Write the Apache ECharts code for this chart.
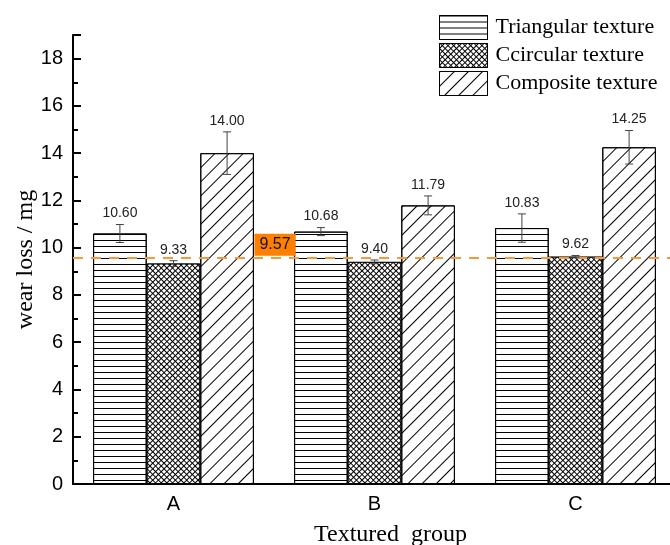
<!DOCTYPE html>
<html>
<head>
<meta charset="utf-8">
<title>wear loss</title>
<script src="https://cdn.jsdelivr.net/npm/echarts@6/dist/echarts.min.js"></script>
<style>
  html, body { margin: 0; padding: 0; background: #fff; }
  #chart { width: 670px; height: 545px; }
</style>
</head>
<body>
<div id="chart"></div>
<script>
// data
const categories = ['A', 'B', 'C'];
const seriesNames = ['Triangular texture', 'Ccircular texture', 'Composite texture'];
const triangular = [10.60, 10.68, 10.83];
const circular = [9.33, 9.40, 9.62];
const composite = [14.00, 11.79, 14.25];
const triangularErr = [0.38, 0.17, 0.60];
const circularErr = [0.12, 0.08, 0.05];
const compositeErr = [0.90, 0.40, 0.71];
const meanValue = 9.57;

const values = [triangular, circular, composite];
const errors = [triangularErr, circularErr, compositeErr];

// patterns: horizontal lines, cross hatch, diagonal lines
const decals = [
  { symbol: 'rect', color: '#000', dashArrayX: [1, 0], dashArrayY: [1, 5], rotation: 0 },
  { symbol: 'rect', color: '#fff', backgroundColor: '#000', dashArrayX: [3, 1], dashArrayY: [3, 1], rotation: Math.PI / 4 },
  { symbol: 'rect', color: '#000', dashArrayX: [1, 0], dashArrayY: [1, 9], rotation: -Math.PI / 4 }
];

// error bar rows: [category index, series index, value, error]
const errRows = [];
values.forEach((arr, s) => arr.forEach((v, c) => errRows.push([c, s, v, errors[s][c]])));

const barSeries = seriesNames.map((name, s) => ({
  name: name,
  type: 'bar',
  xAxisIndex: 0,
  data: values[s],
  barGap: '0%',
  barCategoryGap: '20%',
  itemStyle: { color: '#fff', borderColor: '#000', borderWidth: 1, decal: decals[s] },
  emphasis: { disabled: true },
  markLine: s === 0 ? {
    silent: true,
    symbol: 'none',
    label: { show: false },
    lineStyle: { color: '#f8983a', type: [10, 8], width: 2 },
    data: [{ yAxis: meanValue }]
  } : undefined
}));

const chart = echarts.init(document.getElementById('chart'));
chart.setOption({
  animation: false,
  backgroundColor: '#fff',
  grid: { left: 73, right: -6, top: 35, bottom: 61, containLabel: false, outerBoundsMode: 'none' },
  legend: {
    orient: 'vertical',
    left: 434,
    top: 10,
    itemWidth: 48,
    itemHeight: 24,
    itemGap: 3,
    icon: 'rect',
    itemStyle: { borderColor: '#000', borderWidth: 1 },
    textStyle: { fontFamily: 'Liberation Serif', fontSize: 22, lineHeight: 24, color: '#000', padding: [0, 0, 0, 3] },
    data: seriesNames
  },
  xAxis: [
    {
      type: 'category',
      data: categories,
      position: 'bottom',
      name: 'Textured  group',
      nameLocation: 'middle',
      nameGap: 39,
      nameMoveOverlap: false,
      nameTextStyle: { fontFamily: 'Liberation Serif', fontSize: 24, color: '#000', padding: [0, 0, 0, 32] },
      axisLine: { lineStyle: { color: '#000', width: 2 } },
      axisTick: { alignWithLabel: true, inside: true, length: 8, lineStyle: { color: '#000', width: 2 } },
      axisLabel: { fontFamily: 'Liberation Sans', fontSize: 20, color: '#000', margin: 10 }
    },
    {
      type: 'category',
      data: categories,
      position: 'bottom',
      axisLine: { show: false },
      axisTick: { inside: true, length: 4, lineStyle: { color: '#000', width: 2 } },
      axisLabel: { show: false }
    }
  ],
  yAxis: {
    type: 'value',
    min: 0,
    max: 19,
    interval: 2,
    name: 'wear loss / mg',
    nameLocation: 'middle',
    nameGap: 35,
    nameMoveOverlap: false,
    nameTextStyle: { fontFamily: 'Liberation Serif', fontSize: 24, color: '#000' },
    axisLine: { show: true, lineStyle: { color: '#000', width: 2 } },
    axisTick: { show: true, inside: true, length: 8, lineStyle: { color: '#000', width: 2 } },
    minorTick: { show: true, splitNumber: 2, length: 5, lineStyle: { color: '#000', width: 2 } },
    splitLine: { show: false },
    axisLabel: { fontFamily: 'Liberation Sans', fontSize: 20, color: '#000', margin: 10, showMaxLabel: false }
  },
  series: barSeries.concat([
    {
      type: 'custom',
      name: 'errors',
      xAxisIndex: 0,
      silent: true,
      z: 5,
      encode: { x: 0, y: 2 },
      data: errRows,
      renderItem: function (params, api) {
        const c = api.value(0), s = api.value(1), v = api.value(2), e = api.value(3);
        const band = api.size([1, 0])[0];
        const bw = band * 0.8 / 3;
        const cx = api.coord([c, v])[0] + (s - 1) * bw;
        const yTop = api.coord([c, v + e])[1];
        const yBot = api.coord([c, v - e])[1];
        const cap = 4;
        const ls = { stroke: '#444', lineWidth: 1 };
        return {
          type: 'group',
          children: [
            { type: 'line', shape: { x1: cx, y1: yTop, x2: cx, y2: yBot }, style: ls },
            { type: 'line', shape: { x1: cx - cap, y1: yTop, x2: cx + cap, y2: yTop }, style: ls },
            { type: 'line', shape: { x1: cx - cap, y1: yBot, x2: cx + cap, y2: yBot }, style: ls },
            {
              type: 'text',
              style: {
                text: v.toFixed(2), x: cx, y: yTop - 4,
                align: 'center', verticalAlign: 'bottom',
                fill: '#222', font: '14px "Liberation Sans"'
              }
            }
          ]
        };
      }
    },
    {
      // label of the mean line, centred on the A/B boundary
      type: 'custom',
      name: 'mean',
      xAxisIndex: 0,
      silent: true,
      z: 6,
      data: [[0, meanValue]],
      renderItem: function (params, api) {
        const p = api.coord([api.value(0), api.value(1)]);
        const x = p[0] + api.size([1, 0])[0] / 2;
        return {
          type: 'text',
          style: {
            text: meanValue.toFixed(2), x: x + 1, y: p[1] - 2,
            align: 'center', verticalAlign: 'bottom',
            fill: '#111', font: '16px "Liberation Sans"',
            backgroundColor: '#ff8000', padding: [3, 5, 3, 5]
          }
        };
      }
    }
  ])
});
</script>
</body>
</html>
